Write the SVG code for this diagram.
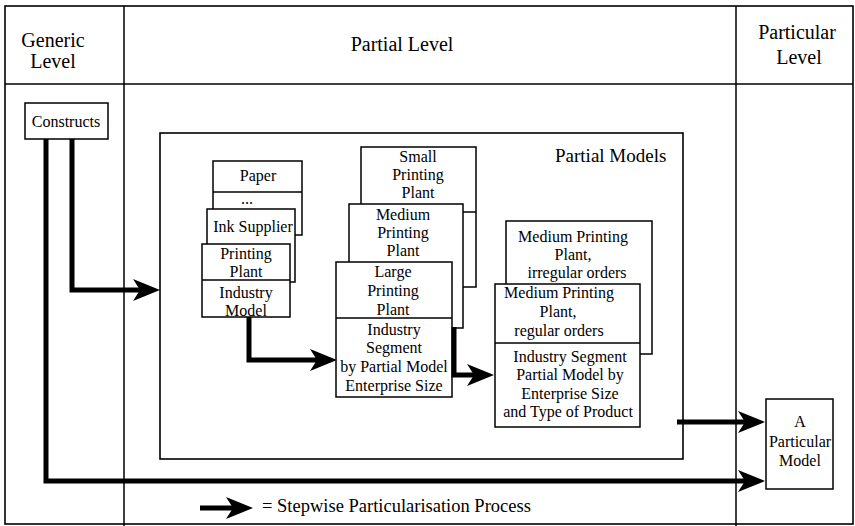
<svg xmlns="http://www.w3.org/2000/svg" width="855" height="526" viewBox="0 0 855 526">
<defs>
<style>
text{fill:#000;text-anchor:middle;font-size:16px}
.hdr{font-size:20px}
.frame{fill:none;stroke:#000;stroke-width:1.6}
.box{fill:#fff;stroke:#000;stroke-width:1.5}
.div{stroke:#000;stroke-width:1.5}
.conn{fill:none;stroke:#000;stroke-width:5}
</style>
<marker id="ah" markerUnits="userSpaceOnUse" markerWidth="30" markerHeight="26" refX="17" refY="11" orient="auto" viewBox="0 0 30 26">
<path d="M0,0 L27,11 L0,22 L7,11 Z" fill="#000"/>
</marker>
</defs>
<g font-family="'Liberation Serif', 'Times New Roman', 'DejaVu Serif', serif">
<g id="frame">
<rect class="frame" x="5" y="6" width="848" height="518"/>
<line class="div" x1="124" y1="6" x2="124" y2="526"/>
<line class="div" x1="736" y1="6" x2="736" y2="526"/>
<line class="div" x1="5" y1="84" x2="853" y2="84"/>
<text class="hdr" x="53" y="47">Generic</text>
<text class="hdr" x="53" y="68">Level</text>
<text class="hdr" x="402" y="51">Partial Level</text>
<text class="hdr" x="797" y="39">Particular</text>
<text class="hdr" x="799" y="64">Level</text>
</g>
<g id="partial-models">
<rect class="frame" x="160" y="133" width="523" height="326"/>
<text x="555" y="162" style="font-size:19px;text-anchor:start">Partial Models</text>
</g>
<g id="constructs">
<rect class="box" x="25" y="103" width="83" height="36"/>
<text x="66" y="127">Constructs</text>
</g>
<g id="paper">
<rect class="box" x="213" y="161" width="89" height="74"/>
<line class="div" x1="213" y1="192" x2="302" y2="192"/>
<text x="258" y="181">Paper</text>
<text x="247" y="204">...</text>
</g>
<g id="ink-supplier">
<rect class="box" x="207" y="209" width="88" height="73"/>
<text x="253" y="232">Ink Supplier</text>
</g>
<g id="printing-plant">
<rect class="box" x="202" y="244" width="88" height="73"/>
<line class="div" x1="202" y1="280" x2="290" y2="280"/>
<text x="246" y="259">Printing</text>
<text x="246" y="277">Plant</text>
<text x="246" y="298">Industry</text>
<text x="246" y="316">Model</text>
</g>
<g id="small-printing-plant">
<rect class="box" x="361" y="147" width="115" height="140"/>
<text x="418" y="162">Small</text>
<text x="418" y="180">Printing</text>
<text x="418" y="198">Plant</text>
</g>
<g id="medium-printing-plant">
<rect class="box" x="349" y="204" width="114" height="124"/>
<line class="div" x1="463" y1="212" x2="476" y2="212"/>
<text x="403" y="220">Medium</text>
<text x="403" y="238">Printing</text>
<text x="403" y="256">Plant</text>
</g>
<g id="large-printing-plant">
<rect class="box" x="336" y="262" width="116" height="135"/>
<line class="div" x1="336" y1="318" x2="452" y2="318"/>
<text x="393" y="277">Large</text>
<text x="393" y="296">Printing</text>
<text x="393" y="315">Plant</text>
<text x="394" y="335">Industry</text>
<text x="394" y="353">Segment</text>
<text x="394" y="372">by Partial Model</text>
<text x="394" y="391">Enterprise Size</text>
</g>
<g id="medium-irregular">
<rect class="box" x="506" y="221" width="146" height="133"/>
<text x="573" y="242">Medium Printing</text>
<text x="573" y="260">Plant,</text>
<text x="577" y="278">irregular orders</text>
</g>
<g id="medium-regular">
<rect class="box" x="495" y="284" width="145" height="143"/>
<line class="div" x1="495" y1="343" x2="640" y2="343"/>
<text x="559" y="298">Medium Printing</text>
<text x="558" y="317">Plant,</text>
<text x="559" y="336">regular orders</text>
<text x="570" y="362">Industry Segment</text>
<text x="570" y="380">Partial Model by</text>
<text x="570" y="399">Enterprise Size</text>
<text x="568" y="417">and Type of Product</text>
</g>
<g id="particular-model">
<rect class="box" x="766" y="399" width="67" height="90"/>
<text x="800" y="427">A</text>
<text x="800" y="447">Particular</text>
<text x="800" y="466">Model</text>
</g>
<g id="connectors">
<path class="conn" marker-end="url(#ah)" d="M72,139 V290 H150"/>
<path class="conn" marker-end="url(#ah)" d="M46,139 V481 H755"/>
<path class="conn" marker-end="url(#ah)" d="M249,317 V360 H327"/>
<path class="conn" marker-end="url(#ah)" d="M454,327 V375 H484"/>
<path class="conn" marker-end="url(#ah)" d="M677,422 H755"/>
</g>
<g id="legend">
<path class="conn" marker-end="url(#ah)" d="M200,508 H243"/>
<text x="262" y="512" style="font-size:18.5px;text-anchor:start">= Stepwise Particularisation Process</text>
</g>
</g>
</svg>
